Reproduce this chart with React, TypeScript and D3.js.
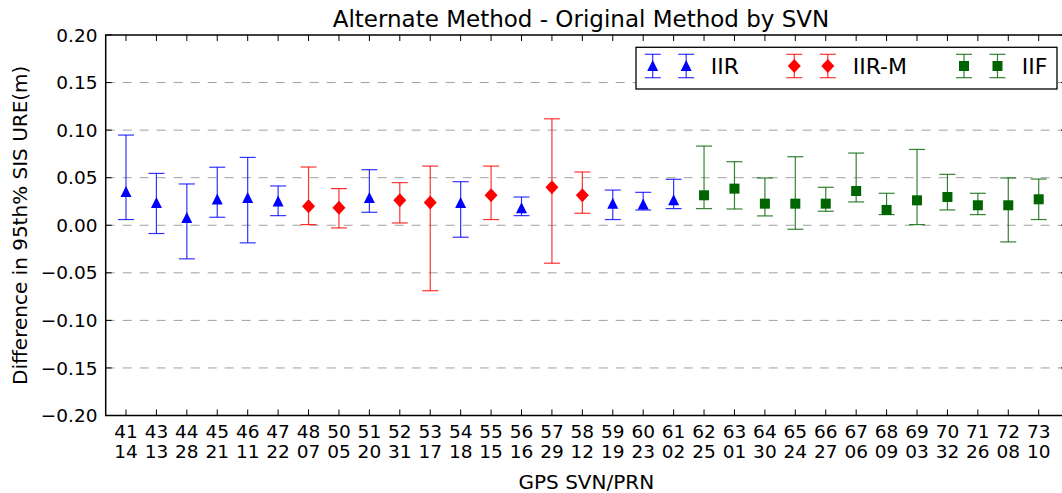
import React from "react";
import * as d3 from "d3";

const svn = [41, 43, 44, 45, 46, 47, 48, 50, 51, 52, 53, 54, 55, 56, 57, 58, 59, 60, 61, 62, 63, 64, 65, 66, 67, 68, 69, 70, 71, 72, 73];
const prn = ["14", "13", "28", "21", "11", "22", "07", "05", "20", "31", "17", "18", "15", "16", "29", "12", "19", "23", "02", "25", "01", "30", "24", "27", "06", "09", "03", "32", "26", "08", "10"];
const blockType = ["IIR", "IIR", "IIR", "IIR", "IIR", "IIR", "IIR-M", "IIR-M", "IIR", "IIR-M", "IIR-M", "IIR", "IIR-M", "IIR", "IIR-M", "IIR-M", "IIR", "IIR", "IIR", "IIF", "IIF", "IIF", "IIF", "IIF", "IIF", "IIF", "IIF", "IIF", "IIF", "IIF", "IIF"];
const midValue = [0.035, 0.0234, 0.0077, 0.027, 0.0287, 0.025, 0.02, 0.0185, 0.0287, 0.0262, 0.0238, 0.0234, 0.0315, 0.018, 0.0399, 0.0315, 0.0227, 0.0217, 0.0262, 0.0315, 0.0385, 0.0227, 0.0227, 0.0227, 0.036, 0.0161, 0.0262, 0.0297, 0.021, 0.021, 0.0273];
const upperValue = [0.0948, 0.0545, 0.0434, 0.061, 0.0713, 0.0413, 0.0612, 0.0385, 0.0584, 0.0448, 0.0622, 0.0458, 0.0622, 0.0297, 0.1119, 0.056, 0.037, 0.0346, 0.0483, 0.0832, 0.0668, 0.0497, 0.072, 0.0399, 0.0759, 0.0336, 0.0797, 0.0535, 0.0336, 0.0497, 0.0486];
const lowerValue = [0.006, -0.0087, -0.0353, 0.0084, -0.0185, 0.0101, 0.0007, -0.0028, 0.0136, 0.0024, -0.0688, -0.0126, 0.006, 0.0101, -0.0399, 0.0126, 0.006, 0.016, 0.0175, 0.0175, 0.0171, 0.0098, -0.0042, 0.0147, 0.0245, 0.0112, 0.0007, 0.0161, 0.0112, -0.0175, 0.006];
const yTicks = [-0.2, -0.15, -0.1, -0.05, 0, 0.05, 0.1, 0.15, 0.2];
const legendNames = ["IIR", "IIR-M", "IIF"];

const W = 1062;
const H = 493;
const left = 105.7, right = 1067, top = 35, bottom = 415.5;
const FONT = "DejaVu Sans, sans-serif";

const colors: Record<string, string> = { "IIR": "#0000ff", "IIR-M": "#ff0000", "IIF": "#006400" };

const x = d3.scaleLinear().domain([-0.667, 30.93]).range([left, right]);
const y = d3.scaleLinear().domain([-0.2, 0.2]).range([bottom, top]);
const fmt = d3.format(".2f");

function Marker({ type, cx, cy }: { type: string; cx: number; cy: number }) {
  const c = colors[type];
  if (type === "IIR") {
    return <path d={`M${cx},${cy - 6}L${cx + 5.5},${cy + 5}L${cx - 5.5},${cy + 5}Z`} fill={c} />;
  }
  if (type === "IIR-M") {
    return <path d={`M${cx},${cy - 7}L${cx + 6.5},${cy}L${cx},${cy + 7}L${cx - 6.5},${cy}Z`} fill={c} />;
  }
  return <rect x={cx - 5} y={cy - 5} width={10} height={10} fill={c} />;
}

function ErrBar({ type, cx, cy, y0, y1 }: { type: string; cx: number; cy: number; y0: number; y1: number }) {
  const c = colors[type];
  const cap = 8;
  return (
    <g>
      <g stroke={c} strokeWidth={1.2} strokeOpacity={0.8}>
        <line x1={cx} x2={cx} y1={y0} y2={y1} />
        <line x1={cx - cap} x2={cx + cap} y1={y0} y2={y0} />
        <line x1={cx - cap} x2={cx + cap} y1={y1} y2={y1} />
      </g>
      <Marker type={type} cx={cx} cy={cy} />
    </g>
  );
}

export default function App() {
  const idx = d3.range(svn.length);
  const legendX = [652.7, 794.3, 964];
  const legendTextX = [710.7, 852.7, 1021.7];
  const legY = 66;
  return (
    <svg width={W} height={H} style={{ position: "fixed", left: 0, top: 0, background: "#fff" }} fontFamily={FONT}>
      <rect x={0} y={0} width={W} height={H} fill="#fff" />
      {yTicks.filter((t) => Math.abs(t) < 0.19).map((t) => (
        <line key={"g" + t} x1={left} x2={right} y1={y(t)} y2={y(t)} stroke="#a0a0a0" strokeWidth={1} strokeDasharray="9,8" />
      ))}
      {idx.map((i) => (
        <ErrBar key={i} type={blockType[i]} cx={x(i)} cy={y(midValue[i])} y0={y(upperValue[i])} y1={y(lowerValue[i])} />
      ))}
      <rect x={left} y={top} width={right - left} height={bottom - top} fill="none" stroke="#000" strokeWidth={1.5} />
      {idx.map((i) => (
        <g key={"xt" + i}>
          <line x1={x(i)} x2={x(i)} y1={bottom} y2={bottom - 6} stroke="#000" strokeWidth={1} />
          <line x1={x(i)} x2={x(i)} y1={top} y2={top + 6} stroke="#000" strokeWidth={1} />
          <text x={x(i)} y={438} textAnchor="middle" fontSize={18.5} fill="#000">{svn[i]}</text>
          <text x={x(i)} y={458} textAnchor="middle" fontSize={18.5} fill="#000">{prn[i]}</text>
        </g>
      ))}
      {yTicks.map((t) => (
        <g key={"yt" + t}>
          <line x1={left} x2={left + 6} y1={y(t)} y2={y(t)} stroke="#000" strokeWidth={1} />
          <line x1={right} x2={right - 6} y1={y(t)} y2={y(t)} stroke="#000" strokeWidth={1} />
          <text x={97.5} y={y(t)} dy="0.36em" textAnchor="end" fontSize={18.5} fill="#000">{fmt(t)}</text>
        </g>
      ))}
      <text x={581} y={27} textAnchor="middle" fontSize={23} fill="#000">Alternate Method - Original Method by SVN</text>
      <text x={(left + right) / 2} y={489} textAnchor="middle" fontSize={20} fill="#000">GPS SVN/PRN</text>
      <text transform={`translate(27,${(top + bottom) / 2}) rotate(-90)`} textAnchor="middle" fontSize={20} fill="#000">Difference in 95th% SIS URE(m)</text>
      <rect x={636} y={47.3} width={421} height={41.7} fill="#fff" stroke="#000" strokeWidth={1.3} />
      {legendNames.map((n, k) => (
        <g key={"lg" + n}>
          <ErrBar type={n} cx={legendX[k]} cy={legY} y0={54.3} y1={77.7} />
          <ErrBar type={n} cx={legendX[k] + 33.5} cy={legY} y0={54.3} y1={77.7} />
          <text x={legendTextX[k]} y={legY} dy="0.36em" fontSize={22} fill="#000">{n}</text>
        </g>
      ))}
    </svg>
  );
}
